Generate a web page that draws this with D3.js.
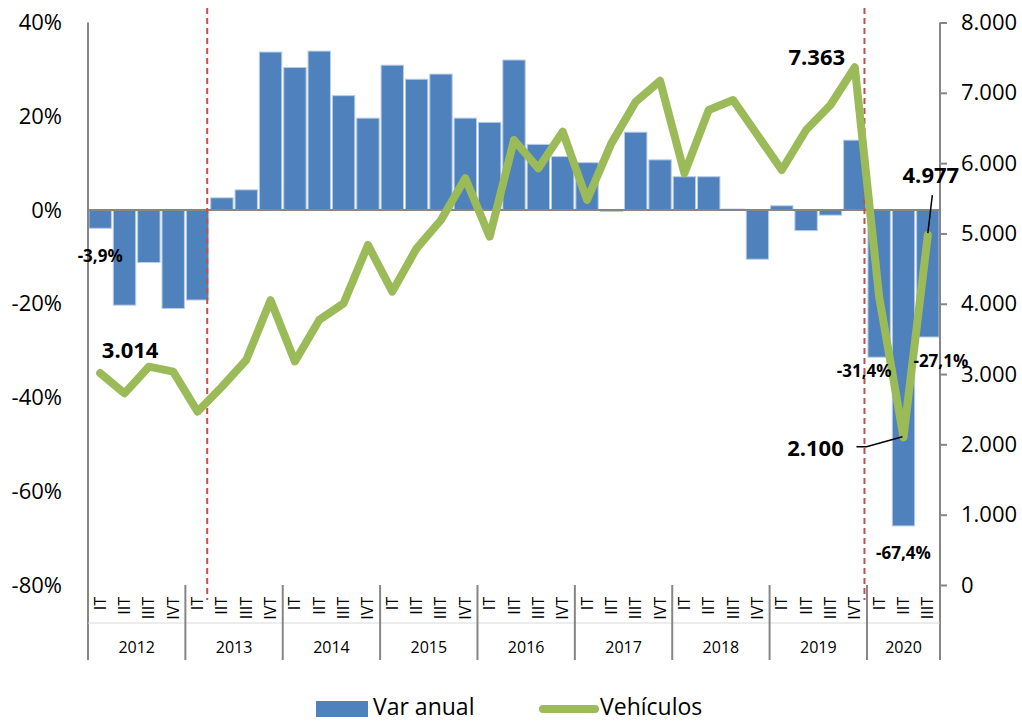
<!DOCTYPE html>
<html>
<head>
<meta charset="utf-8">
<script src="https://cdn.jsdelivr.net/npm/d3@7"></script>
<style>
  body { margin: 0; background: #fff; }
  text { font-family: "Open Sans", sans-serif; fill: #000; }
</style>
</head>
<body>
<svg id="chart" width="1022" height="721"></svg>
<script>
const years = ["2012", "2013", "2014", "2015", "2016", "2017", "2018", "2019", "2020"];
const quarterNames = ["IT", "IIT", "IIIT", "IVT"];
const quartersPerYear = [4, 4, 4, 4, 4, 4, 4, 4, 3];

// Var anual (%)
const varAnual = [-3.9, -20.3, -11.2, -21.0, -19.2, 2.6, 4.3, 33.7, 30.4, 33.9, 24.4, 19.6,
  30.9, 27.9, 29.0, 19.6, 18.7, 32.0, 14.0, 11.4, 10.1, -0.3, 16.6, 10.7,
  7.1, 7.1, 0.2, -10.5, 0.9, -4.4, -1.1, 14.9, -31.4, -67.4, -27.1];

// Vehículos
const vehiculos = [3014, 2726, 3105, 3034, 2465, 2820, 3200, 4050, 3180, 3770, 4006, 4836,
  4172, 4789, 5191, 5784, 4954, 6329, 5926, 6447, 5476, 6281, 6874, 7170,
  5855, 6755, 6898, 6400, 5902, 6471, 6827, 7363, 4100, 2100, 4977];

const leftTicks = [-80, -60, -40, -20, 0, 20, 40];
const rightTicks = [0, 1000, 2000, 3000, 4000, 5000, 6000, 7000, 8000];

// build the category list
const cats = [];
years.forEach((y, yi) => {
  for (let q = 0; q < quartersPerYear[yi]; q++) {
    cats.push({ key: y + "-" + quarterNames[q], year: y, q: quarterNames[q] });
  }
});
cats.forEach((c, i) => { c.v = varAnual[i]; c.n = vehiculos[i]; c.i = i; });

const plotLeft = 88, plotRight = 940, plotTop = 22.5, plotBottom = 585, axisBottom = 660;

const svg = d3.select("#chart");

const x = d3.scaleBand()
  .domain(cats.map(d => d.key))
  .range([plotLeft, plotRight])
  .paddingInner(0.08)
  .paddingOuter(0.04);
const cx = d => x(d.key) + x.bandwidth() / 2;
const edge = i => plotLeft + i * x.step();

const yL = d3.scaleLinear().domain([-80, 40]).range([plotBottom, plotTop]);
const yR = d3.scaleLinear().domain([0, 8000]).range([plotBottom, plotTop]);

const es = d3.formatLocale({ decimal: ",", thousands: ".", grouping: [3], currency: ["", ""], minus: "-" });
const fmtN = es.format(",d");
const fmtP = d => es.format(".1f")(d) + "%";

// bars
svg.append("g").selectAll("rect")
  .data(cats)
  .enter()
  .append("rect")
  .attr("x", d => x(d.key))
  .attr("y", d => yL(Math.max(0, d.v)))
  .attr("width", x.bandwidth())
  .attr("height", d => Math.abs(yL(d.v) - yL(0)))
  .style("fill", "#4F81BD")
  .style("stroke", "#B9CDE5")
  .style("stroke-width", 1);

// zero line
svg.append("line")
  .attr("x1", plotLeft).attr("x2", plotRight)
  .attr("y1", yL(0)).attr("y2", yL(0))
  .style("stroke", "#868686").style("stroke-width", 2);

// red dashed markers
[5, 32].forEach(i => {
  svg.append("line")
    .attr("x1", edge(i) - 2.5).attr("x2", edge(i) - 2.5)
    .attr("y1", 8).attr("y2", 600)
    .style("stroke", "#C0504D")
    .style("stroke-width", 2)
    .style("stroke-dasharray", "6,4");
});

// line
const line = d3.line().x(d => cx(d)).y(d => yR(d.n));
svg.append("path")
  .datum(cats)
  .attr("d", line)
  .style("fill", "none")
  .style("stroke", "#9BBB59")
  .style("stroke-width", 8)
  .style("stroke-linejoin", "round")
  .style("stroke-linecap", "round");

// left axis
const gL = svg.append("g")
  .attr("transform", `translate(${plotLeft},0)`)
  .call(d3.axisLeft(yL).tickValues(leftTicks).tickSize(0).tickPadding(26).tickFormat(d => d + "%"));
gL.select(".domain").remove();
gL.selectAll("text").style("font-size", "22px").style("font-family", "Open Sans");
svg.append("line")
  .attr("x1", plotLeft).attr("x2", plotLeft).attr("y1", plotTop).attr("y2", axisBottom)
  .style("stroke", "#868686").style("stroke-width", 2);

// right axis
const gR = svg.append("g")
  .attr("transform", `translate(${plotRight},0)`)
  .call(d3.axisRight(yR).tickValues(rightTicks).tickSize(7).tickPadding(14).tickFormat(fmtN));
gR.select(".domain").remove();
gR.selectAll("line").style("stroke", "#868686").style("stroke-width", 2);
gR.selectAll("text").style("font-size", "22px").style("font-family", "Open Sans");
svg.append("line")
  .attr("x1", plotRight).attr("x2", plotRight).attr("y1", plotTop).attr("y2", axisBottom)
  .style("stroke", "#868686").style("stroke-width", 2);

// category axis
svg.append("line")
  .attr("x1", plotLeft).attr("x2", plotRight).attr("y1", 623).attr("y2", 623)
  .style("stroke", "#D9D9D9").style("stroke-width", 1);

svg.append("g").selectAll("text")
  .data(cats)
  .enter()
  .append("text")
  .attr("transform", d => `translate(${cx(d) + 5.5},597) rotate(-90)`)
  .attr("text-anchor", "end")
  .style("font-size", "16px")
  .text(d => d.q);

let start = 0;
years.forEach((y, yi) => {
  const end = start + quartersPerYear[yi];
  if (yi > 0) {
    svg.append("line")
      .attr("x1", edge(start)).attr("x2", edge(start))
      .attr("y1", plotBottom).attr("y2", axisBottom)
      .style("stroke", "#868686").style("stroke-width", 2);
  }
  svg.append("text")
    .attr("x", (edge(start) + edge(end)) / 2)
    .attr("y", 653)
    .attr("text-anchor", "middle")
    .style("font-size", "16px")
    .text(y);
  start = end;
});

// data labels
const pctLabels = [
  { i: 0, dx: 0, dy: 34 },
  { i: 32, dx: -15, dy: 20 },
  { i: 33, dx: 0, dy: 33 },
  { i: 34, dx: 13, dy: 30 }
];
pctLabels.forEach(l => {
  const d = cats[l.i];
  svg.append("text")
    .attr("x", cx(d) + l.dx)
    .attr("y", yL(d.v) + l.dy)
    .attr("text-anchor", "middle")
    .style("font-size", "17px")
    .style("font-weight", "bold")
    .text(fmtP(d.v));
});

const numLabels = [
  { i: 0, dx: 30, dy: -15 },
  { i: 31, dx: -38, dy: -2 },
  { i: 34, dx: 3, dy: -52 },
  { i: 33, dx: -88, dy: 19 }
];
numLabels.forEach(l => {
  const d = cats[l.i];
  svg.append("text")
    .attr("x", cx(d) + l.dx)
    .attr("y", yR(d.n) + l.dy)
    .attr("text-anchor", "middle")
    .style("font-size", "22px")
    .style("font-weight", "bold")
    .text(fmtN(d.n));
});

// leader lines
const p34 = cats[34], p33 = cats[33];
svg.append("line")
  .attr("x1", cx(p34) + 4.5).attr("y1", yR(p34.n) - 40)
  .attr("x2", cx(p34)).attr("y2", yR(p34.n) - 2)
  .style("stroke", "#000").style("stroke-width", 1.5);
svg.append("polyline")
  .attr("points", [[cx(p33) - 47, yR(p33.n) + 9.5], [cx(p33) - 37, yR(p33.n) + 9.5], [cx(p33) - 1, yR(p33.n) - 0.5]].join(" "))
  .style("fill", "none").style("stroke", "#000").style("stroke-width", 1.5);

// legend
const legend = svg.append("g");
legend.append("rect")
  .attr("x", 316).attr("y", 701).attr("width", 52).attr("height", 16)
  .style("fill", "#4F81BD");
legend.append("text")
  .attr("x", 373).attr("y", 715)
  .style("font-size", "23px")
  .text("Var anual");
legend.append("line")
  .attr("x1", 543).attr("x2", 595).attr("y1", 709).attr("y2", 709)
  .style("stroke", "#9BBB59").style("stroke-width", 8).style("stroke-linecap", "round");
legend.append("text")
  .attr("x", 600).attr("y", 715)
  .style("font-size", "23px")
  .text("Vehículos");
</script>
</body>
</html>
